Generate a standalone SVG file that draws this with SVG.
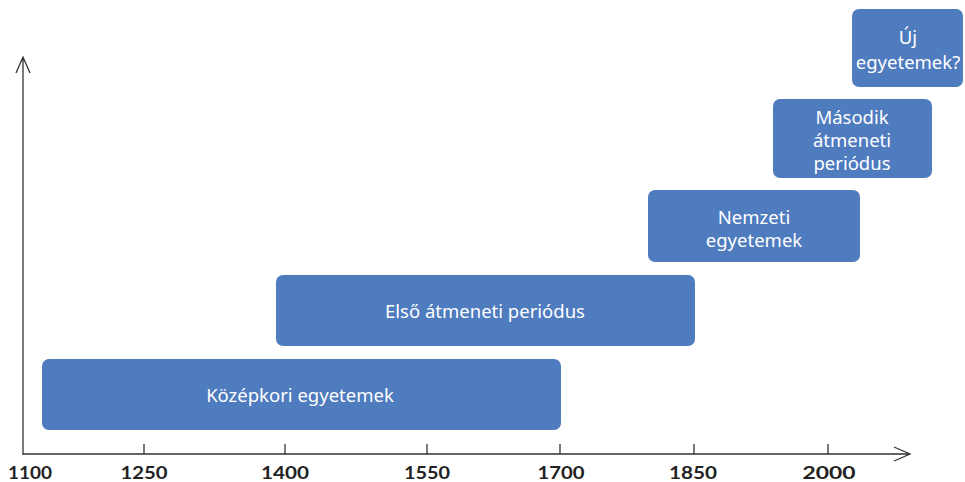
<svg xmlns="http://www.w3.org/2000/svg" width="965" height="482" viewBox="0 0 965 482">
  <style>
    .box { fill: #4f7bbf; }
    .lbl { fill: #ffffff; font-family: "Noto Sans", "Open Sans", sans-serif; font-size: 18.5px; text-anchor: middle; }
    .axis { stroke: #333333; stroke-width: 1.3; fill: none; }
    .year { fill: #222222; font-family: "Lato", "Liberation Sans", sans-serif; font-weight: 700; font-size: 16.5px; text-anchor: middle; }
  </style>
  <rect width="965" height="482" fill="#ffffff"/>

  <g id="axes">
    <path class="axis" d="M23 455 V57 M16 73 L23 57 L30 73"/>
    <path class="axis" d="M23 454 H910 M894 447 L910 454 L894 461"/>
    <path class="axis" d="M144 444 V454 M285 444 V454 M427 444 V454 M560 444 V454 M694 444 V454 M828 444 V454"/>
    <text class="year" x="30" y="478.5" textLength="44" lengthAdjust="spacingAndGlyphs">1100</text>
    <text class="year" x="144" y="478.5" textLength="47" lengthAdjust="spacingAndGlyphs">1250</text>
    <text class="year" x="285" y="478.5" textLength="48" lengthAdjust="spacingAndGlyphs">1400</text>
    <text class="year" x="427" y="478.5" textLength="46" lengthAdjust="spacingAndGlyphs">1550</text>
    <text class="year" x="561" y="478.5" textLength="47" lengthAdjust="spacingAndGlyphs">1700</text>
    <text class="year" x="693" y="478.5" textLength="48" lengthAdjust="spacingAndGlyphs">1850</text>
    <text class="year" x="829" y="478.5" textLength="53" lengthAdjust="spacingAndGlyphs">2000</text>
  </g>

  <g id="kozepkori">
    <rect class="box" x="42" y="359" width="519" height="71" rx="7"/>
    <text class="lbl" x="300" y="401.5">Középkori egyetemek</text>
  </g>
  <g id="elso-atmeneti">
    <rect class="box" x="276" y="275" width="419" height="71" rx="7"/>
    <text class="lbl" x="485" y="317.5">Első átmeneti periódus</text>
  </g>
  <g id="nemzeti">
    <rect class="box" x="648" y="190" width="212" height="72" rx="7"/>
    <text class="lbl" x="754" y="223.5">Nemzeti</text>
    <text class="lbl" x="754" y="246.5">egyetemek</text>
  </g>
  <g id="masodik-atmeneti">
    <rect class="box" x="773" y="99" width="159" height="79" rx="7"/>
    <text class="lbl" x="852" y="123.5">Második</text>
    <text class="lbl" x="852" y="146.5">átmeneti</text>
    <text class="lbl" x="852" y="169.5">periódus</text>
  </g>
  <g id="uj">
    <rect class="box" x="852" y="9" width="111" height="78" rx="7"/>
    <text class="lbl" x="908" y="43.5">Új</text>
    <text class="lbl" x="908" y="68.5">egyetemek?</text>
  </g>
</svg>
